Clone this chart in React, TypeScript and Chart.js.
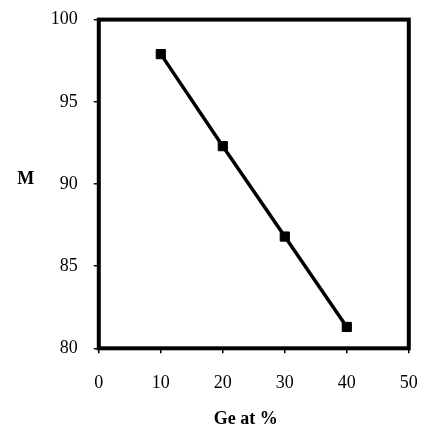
import React, { useEffect, useRef } from 'react';
import { Chart, registerables } from 'chart.js';

Chart.register(...registerables);

const geAt = [10, 20, 30, 40];
const mValues = [97.9, 92.3, 86.8, 81.3];
const xTicks = [0, 10, 20, 30, 40, 50];
const yTicks = [80, 85, 90, 95, 100];
const xTitle = 'Ge at %';
const yTitle = 'M';

const FONT = '"Liberation Serif", "Times New Roman", serif';

const boxAndTitles = {
  id: 'boxAndTitles',
  beforeDatasetsDraw(chart: any) {
    const { ctx, chartArea } = chart;
    ctx.save();
    ctx.strokeStyle = '#000';
    ctx.lineWidth = 4;
    ctx.lineJoin = 'miter';
    ctx.strokeRect(chartArea.left, chartArea.top, chartArea.right - chartArea.left, chartArea.bottom - chartArea.top);
    ctx.restore();
  },
  afterDraw(chart: any) {
    const { ctx, chartArea } = chart;
    ctx.save();
    ctx.fillStyle = '#000';
    ctx.font = `bold 18px ${FONT}`;
    ctx.textAlign = 'center';
    ctx.textBaseline = 'alphabetic';
    ctx.fillText(yTitle, chartArea.left - 73, chartArea.top + 164.5);
    ctx.fillText(xTitle, (chartArea.left + chartArea.right) / 2 - 8, chartArea.bottom + 75.5);
    ctx.restore();
  },
};

const zeroPad = (s: any) => {
  s.paddingLeft = 0;
  s.paddingRight = 0;
  s.paddingTop = 0;
  s.paddingBottom = 0;
};

export default function App() {
  const ref = useRef<HTMLCanvasElement | null>(null);
  useEffect(() => {
    if (!ref.current) return;
    const chart = new Chart(ref.current, {
      type: 'line',
      data: {
        datasets: [
          {
            data: geAt.map((x, i) => ({ x, y: mValues[i] })),
            borderColor: '#000',
            backgroundColor: '#000',
            borderWidth: 3.5,
            pointStyle: 'rect',
            pointRadius: 6.5,
            pointBorderWidth: 1,
            pointBorderColor: '#000',
            pointBackgroundColor: '#000',
            tension: 0,
          },
        ],
      },
      options: {
        animation: false,
        responsive: true,
        maintainAspectRatio: false,
        layout: { padding: { top: 19.6, right: 12.2, left: 0, bottom: 0 } },
        plugins: { legend: { display: false }, tooltip: { enabled: false } },
        scales: {
          x: {
            type: 'linear',
            min: 0,
            max: 50,
            afterBuildTicks: (s: any) => {
              s.ticks = xTicks.map((v) => ({ value: v }));
            },
            afterFit: (s: any) => {
              s.height = 78.7;
              zeroPad(s);
            },
            border: { display: false },
            grid: { display: true, drawOnChartArea: false, drawTicks: true, tickLength: 5, color: '#000', lineWidth: 1.5 },
            ticks: { color: '#000', padding: 19, maxRotation: 0, font: { family: FONT, size: 18 } },
          },
          y: {
            type: 'linear',
            min: 80,
            max: 100,
            afterBuildTicks: (s: any) => {
              s.ticks = yTicks.map((v) => ({ value: v }));
            },
            afterFit: (s: any) => {
              s.width = 98.8;
              zeroPad(s);
            },
            border: { display: false },
            grid: { display: true, drawOnChartArea: false, drawTicks: true, tickLength: 5, color: '#000', lineWidth: 1.5 },
            ticks: { color: '#000', padding: 16, font: { family: FONT, size: 18 } },
          },
        },
      },
      plugins: [boxAndTitles],
    });
    return () => chart.destroy();
  }, []);
  return (
    <div style={{ position: 'fixed', left: 0, top: 0, width: 421, height: 427, background: '#fff' }}>
      <canvas ref={ref} />
    </div>
  );
}
